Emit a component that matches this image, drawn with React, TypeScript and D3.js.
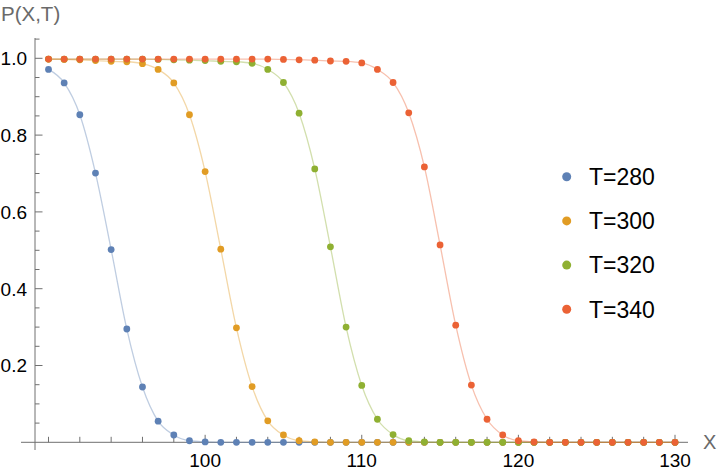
import React from "react";
import * as d3 from "d3";

const X_VALUES = [
  90, 91, 92, 93, 94, 95, 96, 97, 98, 99, 100, 101, 102, 103, 104, 105, 106, 107, 108, 109, 110,
  111, 112, 113, 114, 115, 116, 117, 118, 119, 120, 121, 122, 123, 124, 125, 126, 127, 128, 129, 130,
];

const P_T280 = [
  0.971, 0.936, 0.853, 0.701, 0.502, 0.295, 0.144, 0.055, 0.019, 0.004, 0.001,
  0, 0, 0, 0, 0, 0, 0, 0, 0, 0, 0, 0, 0, 0, 0, 0, 0, 0, 0, 0, 0, 0, 0, 0, 0, 0, 0, 0, 0, 0,
];

const P_T300 = [
  0.998, 0.997, 0.996, 0.994, 0.992, 0.991, 0.986, 0.971, 0.936, 0.853, 0.705, 0.503, 0.298,
  0.145, 0.056, 0.019, 0.004, 0.001,
  0, 0, 0, 0, 0, 0, 0, 0, 0, 0, 0, 0, 0, 0, 0, 0, 0, 0, 0, 0, 0, 0, 0,
];

const P_T320 = [
  0.998, 0.998, 0.998, 0.998, 0.998, 0.998, 0.998, 0.997, 0.996, 0.995, 0.994, 0.992, 0.991,
  0.987, 0.971, 0.937, 0.857, 0.712, 0.509, 0.3, 0.148, 0.06, 0.02, 0.004, 0.001,
  0, 0, 0, 0, 0, 0, 0, 0, 0, 0, 0, 0, 0, 0, 0, 0,
];

const P_T340 = [
  0.998, 0.998, 0.998, 0.998, 0.998, 0.998, 0.998, 0.998, 0.998, 0.998, 0.998, 0.998, 0.998,
  0.998, 0.998, 0.997, 0.996, 0.995, 0.993, 0.992, 0.988, 0.971, 0.937, 0.858, 0.717, 0.514,
  0.305, 0.149, 0.06, 0.019, 0.004, 0.001,
  0, 0, 0, 0, 0, 0, 0, 0, 0,
];

const SERIES_LABELS = ["T=280", "T=300", "T=320", "T=340"];
const SERIES_VALUES = [P_T280, P_T300, P_T320, P_T340];
const SERIES_COLORS = ["#5E81B5", "#E19C24", "#8FB032", "#EB6235"];

const X_MAJOR_TICKS = [100, 110, 120, 130];
const Y_MAJOR_TICKS = [0.2, 0.4, 0.6, 0.8, 1.0];

const W = 720;
const H = 476;

export default function App() {
  const x = d3.scaleLinear().domain([90, 130]).range([48.5, 675]);
  const y = d3.scaleLinear().domain([0, 1]).range([442.3, 58.3]);

  const axisX = 35; // pixel position of vertical axis
  const axisY = y(0);
  const axisColor = "#707070";

  const xMinor = d3.range(90, 131, 2);
  const yMinor = d3.range(0.05, 1.0501, 0.05);

  const line = d3
    .line<[number, number]>()
    .x((d) => x(d[0]))
    .y((d) => y(d[1]))
    .curve(d3.curveMonotoneX);

  const font = "Arial, 'Liberation Sans', Helvetica, sans-serif";

  return (
    <svg
      width={W}
      height={H}
      style={{ position: "absolute", left: 0, top: 0, background: "#fff" }}
      fontFamily={font}
    >
      {/* axes */}
      <line x1={21} x2={688} y1={axisY} y2={axisY} stroke={axisColor} strokeWidth={1} />
      <line x1={axisX} x2={axisX} y1={38} y2={450} stroke={axisColor} strokeWidth={1} />

      {/* x ticks */}
      {xMinor.map((v) => {
        const major = X_MAJOR_TICKS.includes(v);
        return (
          <line
            key={"xt" + v}
            x1={x(v)}
            x2={x(v)}
            y1={axisY}
            y2={axisY - (major ? 7.5 : 5.5)}
            stroke={axisColor}
            strokeWidth={1}
          />
        );
      })}
      {X_MAJOR_TICKS.map((v) => (
        <text key={"xl" + v} x={x(v)} y={467} textAnchor="middle" fontSize={19} fill="#000">
          {v}
        </text>
      ))}

      {/* y ticks */}
      {yMinor.map((v, i) => {
        const major = Y_MAJOR_TICKS.some((m) => Math.abs(m - v) < 1e-6);
        return (
          <line
            key={"yt" + i}
            x1={axisX}
            x2={axisX + (major ? 7.5 : 4.5)}
            y1={y(v)}
            y2={y(v)}
            stroke={axisColor}
            strokeWidth={1}
          />
        );
      })}
      {Y_MAJOR_TICKS.map((v) => (
        <text
          key={"yl" + v}
          x={27}
          y={y(v) + 6.8}
          textAnchor="end"
          fontSize={19}
          fill="#000"
        >
          {v.toFixed(1)}
        </text>
      ))}

      {/* axis labels */}
      <text x={1} y={20.5} fontSize={20.5} fill="#6a6a6a">
        P(X,T)
      </text>
      <text x={703} y={448.5} fontSize={20} fill="#6a6a6a">
        X
      </text>

      {/* series lines */}
      {SERIES_VALUES.map((vals, si) => (
        <path
          key={"ln" + si}
          d={line(X_VALUES.map((xv, i) => [xv, vals[i]] as [number, number])) || ""}
          fill="none"
          stroke={SERIES_COLORS[si]}
          strokeOpacity={0.4}
          strokeWidth={1.3}
        />
      ))}

      {/* series points */}
      {SERIES_VALUES.map((vals, si) => (
        <g key={"pts" + si} fill={SERIES_COLORS[si]}>
          {X_VALUES.map((xv, i) => (
            <circle key={i} cx={x(xv)} cy={y(vals[i])} r={3.4} />
          ))}
        </g>
      ))}

      {/* legend */}
      {SERIES_LABELS.map((lab, i) => {
        const cy = 176.7 + i * 44.2;
        return (
          <g key={"lg" + i}>
            <circle cx={566.7} cy={cy} r={4.5} fill={SERIES_COLORS[i]} />
            <text x={589} y={cy + 8.2} fontSize={23} fill="#000">
              {lab}
            </text>
          </g>
        );
      })}
    </svg>
  );
}
